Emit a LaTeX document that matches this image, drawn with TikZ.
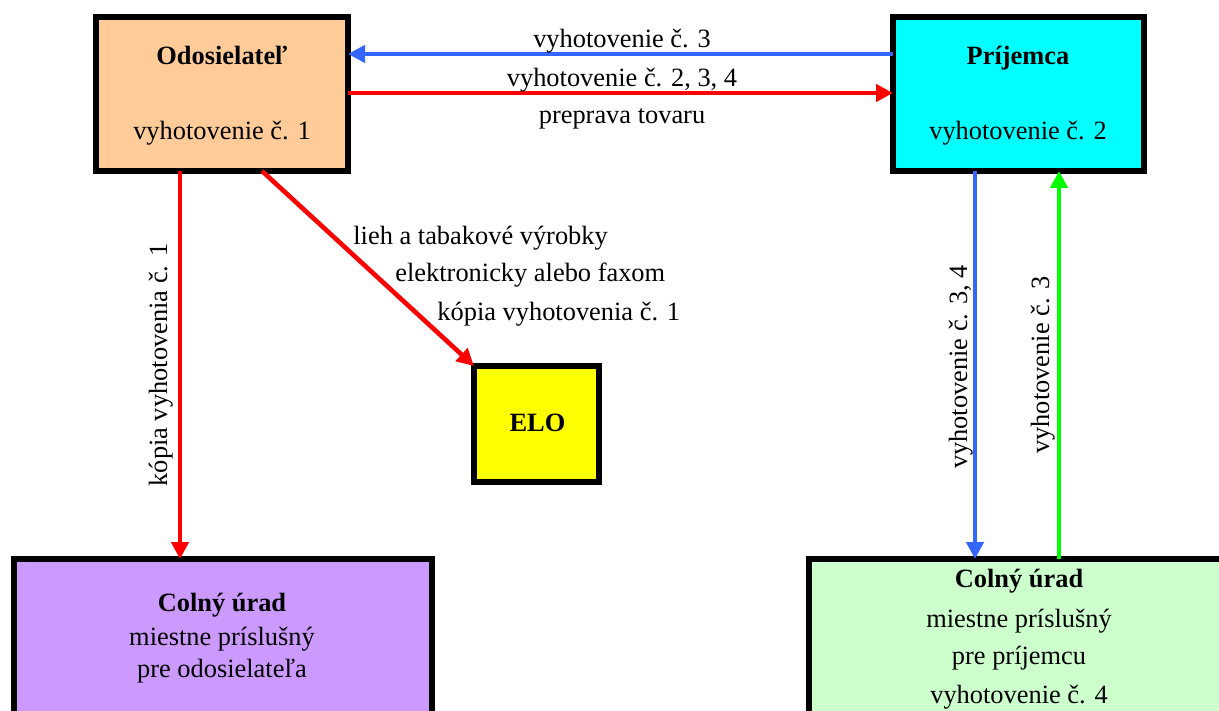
\documentclass[tikz,border=0pt]{standalone}
\usepackage{fontspec}
\setmainfont{Liberation Serif}
\usetikzlibrary{arrows.meta}
\definecolor{peach}{HTML}{FFCC99}
\definecolor{cyanb}{HTML}{00FFFF}
\definecolor{purp}{HTML}{CC99FF}
\definecolor{lgreen}{HTML}{CCFFCC}
\definecolor{yel}{HTML}{FFFF00}
\definecolor{blueA}{HTML}{3366FF}
\definecolor{greenA}{HTML}{00FF00}
\definecolor{redA}{HTML}{FF0000}
\begin{document}
\begin{tikzpicture}[x=0.5pt,y=-0.5pt,
  box/.style={draw=black,line width=3pt,inner sep=0pt,outer sep=0pt},
  txt/.style={font=\fontsize{13.2}{15}\selectfont,inner sep=0pt,anchor=base},
  btxt/.style={txt,font=\fontsize{13.2}{15}\selectfont\bfseries},
  ltxt/.style={txt,anchor=base west},
  vtxt/.style={txt,rotate=90},
  arr/.style={line width=2.3pt,-{Triangle[length=8.5pt,width=8.5pt]}}]
\useasboundingbox (0,0) rectangle (1219,711);
\clip (0,0) rectangle (1219,711);

% boxes
\node[box,fill=peach,minimum width=126pt,minimum height=77pt] (odo) at (222,94) {};
\node[box,fill=cyanb,minimum width=125.5pt,minimum height=77pt] (prij) at (1018.5,94) {};
\node[box,fill=yel,minimum width=62.5pt,minimum height=58pt] (elo) at (536.5,424) {};
\node[box,fill=purp,minimum width=209pt,minimum height=120.5pt] (cu1) at (223,679.5) {};
\node[box,fill=lgreen,minimum width=215.5pt,minimum height=120.5pt] (cu2) at (1024.5,679.5) {};

% box texts
\node[btxt] (odoT) at (222,65) {Odosielateľ};
\node[txt] (odoV) at (222,140) {vyhotovenie č. 1};
\node[btxt] (prijT) at (1018,65) {Príjemca};
\node[txt] (prijV) at (1018,140) {vyhotovenie č. 2};
\node[btxt] (eloT) at (537.5,431) {ELO};
\node[btxt] (cu1T) at (222,611) {Colný úrad};
\node[txt] (cu1A) at (222,645) {miestne príslušný};
\node[txt] (cu1B) at (222,677) {pre odosielateľa};
\node[btxt] (cu2T) at (1019,587) {Colný úrad};
\node[txt] (cu2A) at (1019,627) {miestne príslušný};
\node[txt] (cu2B) at (1019,664) {pre príjemcu};
\node[txt] (cu2C) at (1019,703) {vyhotovenie č. 4};

% helper coordinates
\coordinate (yb) at (0,54);
\coordinate (yr) at (0,93);
\coordinate (xl) at (180,0);
\coordinate (xd) at (262,0);
\coordinate (xb) at (975,0);
\coordinate (xg) at (1059,0);

% connectors
\draw[arr,blueA] (prij.west |- yb) -- (odo.east |- yb);
\draw[arr,redA] (odo.east |- yr) -- (prij.west |- yr);
\draw[arr,redA] (odo.south -| xl) -- (cu1.north -| xl);
\draw[arr,redA] (odo.south -| xd) -- (elo.north west);
\draw[arr,blueA] (prij.south -| xb) -- (cu2.north -| xb);
\draw[arr,greenA] (cu2.north -| xg) -- (prij.south -| xg);

% connector labels
\node[txt] (l1) at (622,48) {vyhotovenie č. 3};
\node[txt] (l2) at (622,87) {vyhotovenie č. 2, 3, 4};
\node[txt] (l3) at (622,124) {preprava tovaru};
\node[ltxt] (d1) at (353,244) {lieh a tabakové výrobky};
\node[ltxt] (d2) at (395,281) {elektronicky alebo faxom};
\node[ltxt] (d3) at (437,320) {kópia vyhotovenia č. 1};
\node[vtxt] (v1) at (167,365) {kópia vyhotovenia č. 1};
\node[vtxt] (v2) at (967,367) {vyhotovenie č. 3, 4};
\node[vtxt] (v3) at (1049,365) {vyhotovenie č. 3};
\end{tikzpicture}
\end{document}
